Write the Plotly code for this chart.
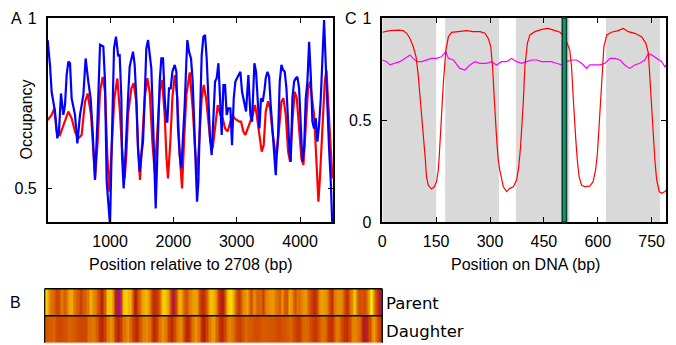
import numpy as np
import plotly.graph_objects as go

# ---------------- Panel A data (Position relative to 2708, bp) ----------------
parent_x = [15, 52, 78, 105, 131, 168, 194, 226, 263, 289, 315, 342, 368, 394, 447, 484, 526, 579, 615, 657,
            694, 726, 763, 805, 842, 894, 921, 947, 1000, 1026, 1063, 1094, 1128, 1152, 1179, 1189, 1215, 1231,
            1258, 1284, 1310, 1337, 1363, 1389, 1415, 1442, 1468, 1494, 1521, 1547, 1573, 1600, 1626, 1652, 1679,
            1705, 1721, 1742, 1758, 1784, 1810, 1837, 1863, 1889, 1905, 1931, 1958, 1984, 2021, 2047, 2073, 2100,
            2126, 2152, 2179, 2205, 2221, 2247, 2279, 2305, 2332, 2358, 2374, 2395, 2421, 2447, 2474, 2500, 2526,
            2553, 2579, 2605, 2632, 2658, 2684, 2711, 2737, 2763, 2790, 2816, 2842, 2868, 2900, 2926, 2953, 2979,
            3016, 3058, 3084, 3111, 3147, 3184, 3216, 3242, 3279, 3305, 3332, 3358, 3384, 3411, 3440, 3458, 3485,
            3511, 3537, 3564, 3590, 3616, 3632, 3653, 3679, 3706, 3732, 3758, 3785, 3811, 3837, 3853, 3879, 3906,
            3932, 3958, 3985, 4011, 4037, 4064, 4090, 4116, 4143, 4169, 4195, 4221, 4248, 4274, 4300, 4327, 4353,
            4379, 4406, 4432, 4458, 4485, 4506, 4520]
parent_occ = [0.935, 0.862, 0.783, 0.754, 0.725, 0.646, 0.666, 0.778, 0.715, 0.744, 0.832, 0.872, 0.867, 0.764,
              0.715, 0.631, 0.715, 0.774, 0.881, 0.813, 0.764, 0.666, 0.524, 0.715, 0.921, 0.916, 0.813, 0.519,
              0.39, 0.617, 0.911, 0.945, 0.89, 0.891, 0.764, 0.597, 0.499, 0.548, 0.685, 0.764, 0.857, 0.881,
              0.901, 0.862, 0.764, 0.617, 0.548, 0.597, 0.636, 0.764, 0.911, 0.935, 0.901, 0.852, 0.695, 0.548,
              0.44, 0.568, 0.666, 0.813, 0.881, 0.881, 0.764, 0.695, 0.695, 0.793, 0.793, 0.842, 0.862, 0.842,
              0.675, 0.597, 0.558, 0.636, 0.744, 0.872, 0.935, 0.901, 0.88, 0.813, 0.636, 0.538, 0.46, 0.519,
              0.715, 0.891, 0.945, 0.95, 0.881, 0.764, 0.646, 0.597, 0.715, 0.813, 0.823, 0.867, 0.764, 0.656,
              0.803, 0.803, 0.715, 0.734, 0.734, 0.626, 0.764, 0.813, 0.827, 0.842, 0.783, 0.754, 0.725, 0.832,
              0.715, 0.695, 0.867, 0.842, 0.764, 0.675, 0.764, 0.754, 0.79, 0.823, 0.842, 0.827, 0.744, 0.675,
              0.617, 0.538, 0.597, 0.656, 0.813, 0.862, 0.847, 0.842, 0.793, 0.675, 0.597, 0.577, 0.764, 0.813,
              0.823, 0.827, 0.793, 0.685, 0.577, 0.617, 0.764, 0.813, 0.93, 0.832, 0.695, 0.675, 0.705, 0.636,
              0.685, 0.764, 0.862, 0.994, 0.862, 0.715, 0.617, 0.519, 0.40, 0.33]

daughter_x = [15, 78, 121, 157, 210, 263, 342, 394, 447, 499, 552, 605, 647, 700, 736, 763, 805, 842, 884, 921,
              957, 989, 1026, 1068, 1115, 1152, 1189, 1231, 1258, 1284, 1337, 1373, 1415, 1442, 1473, 1505, 1547,
              1589, 1626, 1668, 1705, 1747, 1784, 1821, 1863, 1889, 1915, 1952, 1984, 2021, 2063, 2100, 2137,
              2168, 2205, 2258, 2305, 2342, 2374, 2411, 2447, 2479, 2516, 2553, 2584, 2621, 2658, 2700, 2742,
              2779, 2816, 2858, 2900, 2937, 2963, 3005, 3042, 3068, 3105, 3137, 3174, 3216, 3253, 3289, 3316,
              3358, 3395, 3426, 3458, 3495, 3527, 3564, 3600, 3632, 3669, 3706, 3737, 3774, 3811, 3843, 3879,
              3916, 3948, 3985, 4021, 4053, 4090, 4127, 4158, 4195, 4221, 4248, 4274, 4290, 4316, 4353, 4390,
              4416, 4443, 4474, 4511]
daughter_occ = [0.70, 0.715, 0.734, 0.666, 0.656, 0.685, 0.725, 0.705, 0.666, 0.646, 0.656, 0.754, 0.778, 0.715,
                0.597, 0.528, 0.636, 0.783, 0.827, 0.783, 0.597, 0.489, 0.617, 0.764, 0.822, 0.734, 0.617, 0.528,
                0.597, 0.715, 0.793, 0.808, 0.754, 0.617, 0.524, 0.617, 0.764, 0.823, 0.783, 0.636, 0.548, 0.666,
                0.783, 0.818, 0.715, 0.597, 0.528, 0.636, 0.764, 0.832, 0.764, 0.597, 0.499, 0.636, 0.774, 0.84,
                0.734, 0.617, 0.538, 0.646, 0.764, 0.803, 0.764, 0.695, 0.636, 0.617, 0.685, 0.744, 0.715, 0.705,
                0.675, 0.666, 0.695, 0.715, 0.705, 0.70, 0.695, 0.695, 0.666, 0.656, 0.675, 0.695, 0.715, 0.744,
                0.715, 0.656, 0.607, 0.626, 0.725, 0.755, 0.734, 0.666, 0.617, 0.597, 0.685, 0.754, 0.764, 0.715,
                0.607, 0.577, 0.695, 0.783, 0.764, 0.666, 0.587, 0.568, 0.666, 0.793, 0.813, 0.764, 0.715, 0.617,
                0.489, 0.46, 0.538, 0.666, 0.813, 0.847, 0.764, 0.666, 0.528]

# ---------------- Panel C data (Position on DNA, bp) ----------------
nuc_x = [0, 21, 45, 58, 68, 77, 86, 94, 100, 106, 112, 116, 120, 123, 128, 137, 145, 151, 156, 159, 162, 165,
         170, 177, 184, 193, 216, 235, 253, 272, 286, 295, 302, 307, 312, 316, 319, 323, 327, 337, 346, 355, 365,
         374, 380, 385, 389, 393, 397, 404, 411, 425, 444, 462, 481, 495, 506, 513, 522, 527, 532, 536, 539, 543,
         548, 555, 564, 578, 587, 594, 599, 603, 606, 611, 617, 625, 638, 657, 671, 685, 703, 722, 734, 741, 745,
         750, 754, 759, 764, 771, 778, 787, 790]
nuc_occ = [0.93, 0.938, 0.941, 0.938, 0.925, 0.90, 0.86, 0.81, 0.72, 0.60, 0.50, 0.40, 0.304, 0.222, 0.18, 0.162,
           0.173, 0.198, 0.255, 0.337, 0.451, 0.55, 0.68, 0.843, 0.908, 0.93, 0.933, 0.938, 0.933, 0.933, 0.925,
           0.90, 0.86, 0.761, 0.598, 0.45, 0.39, 0.304, 0.255, 0.173, 0.149, 0.165, 0.173, 0.206, 0.271, 0.369,
           0.467, 0.598, 0.761, 0.876, 0.917, 0.933, 0.944, 0.949, 0.938, 0.93, 0.908, 0.884, 0.843, 0.761, 0.598,
           0.46, 0.40, 0.304, 0.222, 0.18, 0.173, 0.176, 0.198, 0.255, 0.337, 0.451, 0.549, 0.712, 0.859, 0.917,
           0.93, 0.938, 0.949, 0.933, 0.925, 0.908, 0.876, 0.827, 0.712, 0.549, 0.418, 0.304, 0.206, 0.149, 0.141,
           0.149, 0.157]

other_x = [0, 12, 21, 35, 49, 63, 77, 86, 96, 110, 123, 137, 151, 165, 177, 184, 198, 216, 230, 244, 258, 272,
           290, 304, 318, 332, 346, 360, 374, 388, 402, 416, 430, 444, 457, 471, 485, 499, 513, 527, 541, 555, 569,
           578, 592, 606, 620, 634, 648, 662, 675, 689, 703, 717, 731, 740, 750, 764, 778, 787, 790]
other_occ = [0.794, 0.786, 0.77, 0.778, 0.786, 0.802, 0.819, 0.802, 0.786, 0.786, 0.794, 0.802, 0.802, 0.81, 0.835,
             0.802, 0.794, 0.753, 0.745, 0.77, 0.786, 0.778, 0.778, 0.786, 0.77, 0.786, 0.786, 0.802, 0.786, 0.778,
             0.786, 0.794, 0.794, 0.786, 0.786, 0.786, 0.778, 0.77, 0.786, 0.794, 0.794, 0.778, 0.753, 0.77, 0.77,
             0.77, 0.778, 0.802, 0.802, 0.794, 0.77, 0.753, 0.77, 0.778, 0.794, 0.824, 0.819, 0.802, 0.786, 0.761,
             0.77]

nuc_starts = [0, 175, 372, 623]
nuc_ends = [150, 325, 521, 773]
site_start, site_end = 501, 513

row_labels = ["Parent", "Daughter"]

W, H = 676, 345


def px_x(p):
    return p / W


def px_y(p):
    return 1 - p / H


# gnuplot default palette (rgbformulae 7,5,15)
stops = np.linspace(0, 1, 41)
colorscale = []
for t in stops:
    r = np.sqrt(t)
    g = t ** 3
    b = max(0.0, np.sin(2 * np.pi * t))
    colorscale.append([float(t), f"rgb({int(round(r*255))},{int(round(g*255))},{int(round(b*255))})"])

fig = go.Figure()

fig.add_trace(go.Scatter(x=daughter_x, y=daughter_occ, mode="lines", line=dict(color="#ff0000", width=2.2),
                         xaxis="x", yaxis="y", showlegend=False))
fig.add_trace(go.Scatter(x=parent_x, y=parent_occ, mode="lines", line=dict(color="#0000ff", width=2.2),
                         xaxis="x", yaxis="y", showlegend=False))

fig.add_trace(go.Scatter(x=other_x, y=other_occ, mode="lines", line=dict(color="#ff00ff", width=1.2),
                         xaxis="x2", yaxis="y2", showlegend=False))
fig.add_trace(go.Scatter(x=nuc_x, y=nuc_occ, mode="lines", line=dict(color="#ff0000", width=1.2),
                         xaxis="x2", yaxis="y2", showlegend=False))

fig.add_trace(go.Heatmap(x=parent_x, y=[1], z=[parent_occ], colorscale=colorscale, zmin=0, zmax=1,
                         showscale=False, xaxis="x3", yaxis="y3", zsmooth=False, hoverinfo="skip"))
fig.add_trace(go.Heatmap(x=daughter_x, y=[0], z=[daughter_occ], colorscale=colorscale, zmin=0, zmax=1,
                         showscale=False, xaxis="x3", yaxis="y3", zsmooth=False, hoverinfo="skip"))

shapes = []
for s, e in zip(nuc_starts, nuc_ends):
    shapes.append(dict(type="rect", xref="x2", yref="y2 domain", x0=s, x1=e, y0=0, y1=1,
                       fillcolor="#d9d9d9", line=dict(width=0), layer="below"))
shapes.append(dict(type="rect", xref="x2", yref="y2 domain", x0=site_start, x1=site_end, y0=0, y1=1,
                   fillcolor="#14946c", line=dict(color="#0a3b2c", width=1.5), layer="above"))
# heatmap frame
shapes.append(dict(type="line", xref="x3 domain", yref="y3 domain", x0=0, x1=1, y0=1, y1=1,
                   line=dict(color="black", width=1.5)))
shapes.append(dict(type="line", xref="x3 domain", yref="y3 domain", x0=0, x1=1, y0=0.5, y1=0.5,
                   line=dict(color="black", width=1.5)))
shapes.append(dict(type="line", xref="x3 domain", yref="y3 domain", x0=0, x1=0, y0=0, y1=1,
                   line=dict(color="black", width=1.2)))
shapes.append(dict(type="line", xref="x3 domain", yref="y3 domain", x0=1, x1=1, y0=0, y1=1,
                   line=dict(color="black", width=1.2)))
shapes.append(dict(type="line", xref="x3 domain", yref="y3 domain", x0=0, x1=1, y0=0, y1=0,
                   line=dict(color="#cccccc", width=1.2)))

tickfont = dict(family="Liberation Sans, Arial, sans-serif", size=16, color="black")
axis_common = dict(showline=True, linecolor="black", linewidth=1.5, mirror="ticks", ticks="inside",
                   ticklen=5, tickwidth=1, tickcolor="black", showgrid=False, zeroline=False,
                   tickfont=tickfont, automargin=False)

fig.update_layout(
    width=W, height=H, margin=dict(l=0, r=0, t=0, b=0, pad=0), autosize=False,
    paper_bgcolor="white", plot_bgcolor="white",
    xaxis=dict(domain=[px_x(47.7), px_x(333)], range=[16, 4520], tickvals=[1000, 2000, 3000, 4000],
               anchor="y", ticklabelstandoff=4, **axis_common),
    yaxis=dict(domain=[px_y(222), px_y(18)], range=[0.4, 1], tickvals=[0.5, 1], ticktext=["0.5", "1"],
               anchor="x", ticklabelstandoff=6, **axis_common),
    xaxis2=dict(domain=[px_x(382.3), px_x(666)], range=[0, 790], tickvals=[0, 150, 300, 450, 600, 750],
                anchor="y2", ticklabelstandoff=4, **axis_common),
    yaxis2=dict(domain=[px_y(222), px_y(18)], range=[0, 1], tickvals=[0, 0.5, 1], ticktext=["0", "0.5", "1"],
                anchor="x2", ticklabelstandoff=6, **axis_common),
    xaxis3=dict(domain=[px_x(44.7), px_x(382.3)], range=[0, 4520], visible=False, anchor="y3",
                automargin=False),
    yaxis3=dict(domain=[px_y(343), px_y(288.7)], range=[-0.5, 1.5], visible=False, anchor="x3",
                automargin=False),
    shapes=shapes,
)

txtfont = dict(family="Liberation Sans, Arial, sans-serif", size=16, color="black")
labfont = dict(family="DejaVu Sans, sans-serif", size=16.5, color="black")
ann = [
    dict(text="A", x=px_x(16.5), y=px_y(19), xanchor="center", yanchor="middle", font=txtfont),
    dict(text="C", x=px_x(351), y=px_y(19), xanchor="center", yanchor="middle", font=txtfont),
    dict(text="B", x=px_x(15.5), y=px_y(302), xanchor="center", yanchor="middle", font=txtfont),
    dict(text="Occupancy", x=px_x(25.5), y=px_y(120), xanchor="center", yanchor="middle", textangle=-90,
         font=txtfont),
    dict(text="Position relative to 2708 (bp)", x=px_x(190.5), y=px_y(264), xanchor="center",
         yanchor="middle", font=txtfont),
    dict(text="Position on DNA (bp)", x=px_x(525), y=px_y(264), xanchor="center", yanchor="middle",
         font=txtfont),
    dict(text=row_labels[0], x=px_x(384), y=px_y(303), xanchor="left", yanchor="middle", font=labfont),
    dict(text=row_labels[1], x=px_x(384), y=px_y(331), xanchor="left", yanchor="middle", font=labfont),
]
for a in ann:
    a.update(xref="paper", yref="paper", showarrow=False)
fig.update_layout(annotations=ann)

fig.write_html("out.html", config={"displayModeBar": False},
               post_script="document.body.style.margin='0px';document.body.style.overflow='hidden';")
